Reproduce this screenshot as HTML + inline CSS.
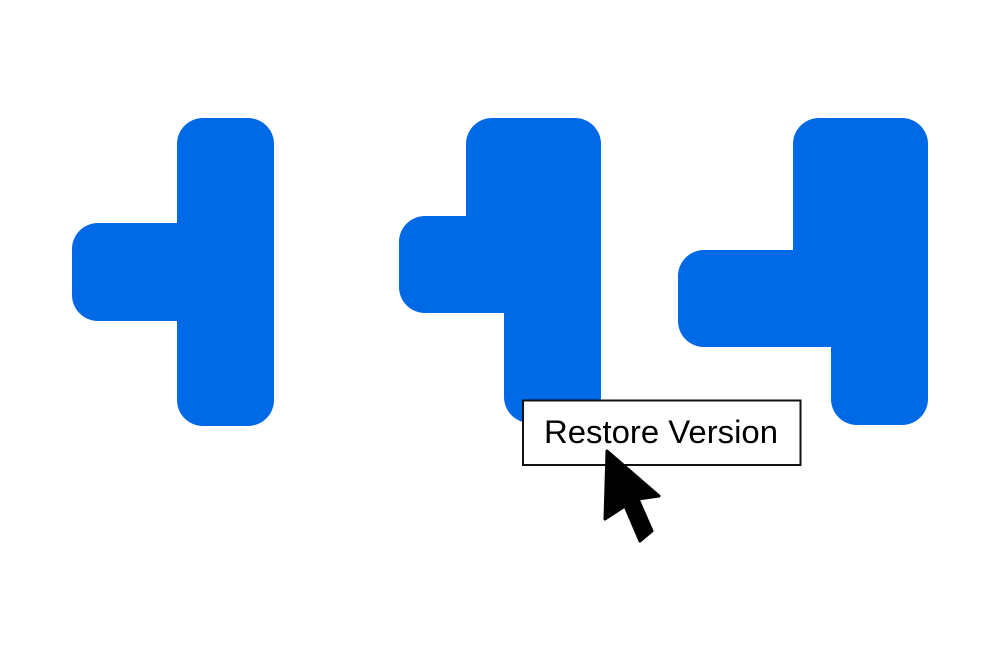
<!DOCTYPE html>
<html><head><meta charset="utf-8"><style>html,body{margin:0;padding:0;background:#fff}svg{display:block}</style></head>
<body>
<svg width="1000" height="667" viewBox="0 0 1000 667" xmlns="http://www.w3.org/2000/svg">
<g fill="#0069E6">
<path d="M203,118 H248 A26,26 0 0 1 274,144 V400 A26,26 0 0 1 248,426 H203 A26,26 0 0 1 177,400 V321 H98 A26,26 0 0 1 72,295 V249 A26,26 0 0 1 98,223 H177 V144 A26,26 0 0 1 203,118 Z"/>
<path d="M492,118 H575 A26,26 0 0 1 601,144 V397 A26,26 0 0 1 575,423 H530 A26,26 0 0 1 504,397 V313 H425 A26,26 0 0 1 399,287 V242 A26,26 0 0 1 425,216 H466 V144 A26,26 0 0 1 492,118 Z"/>
<path d="M819,118 H902 A26,26 0 0 1 928,144 V399 A26,26 0 0 1 902,425 H857 A26,26 0 0 1 831,399 V347 H704 A26,26 0 0 1 678,321 V276 A26,26 0 0 1 704,250 H793 V144 A26,26 0 0 1 819,118 Z"/>
</g>
<rect x="523" y="400.5" width="277.5" height="64.5" fill="#fff" stroke="#111" stroke-width="2"/>
<text x="544" y="443" font-family="Liberation Sans, sans-serif" font-size="32" fill="#000" textLength="234" lengthAdjust="spacingAndGlyphs">Restore Version</text>
<path d="M607,451 L659,496 L638,499 L652,531 L640,541 L625,506 L605,519 Z" fill="#000" stroke="#000" stroke-width="3" stroke-linejoin="round"/>
</svg>
</body></html>
